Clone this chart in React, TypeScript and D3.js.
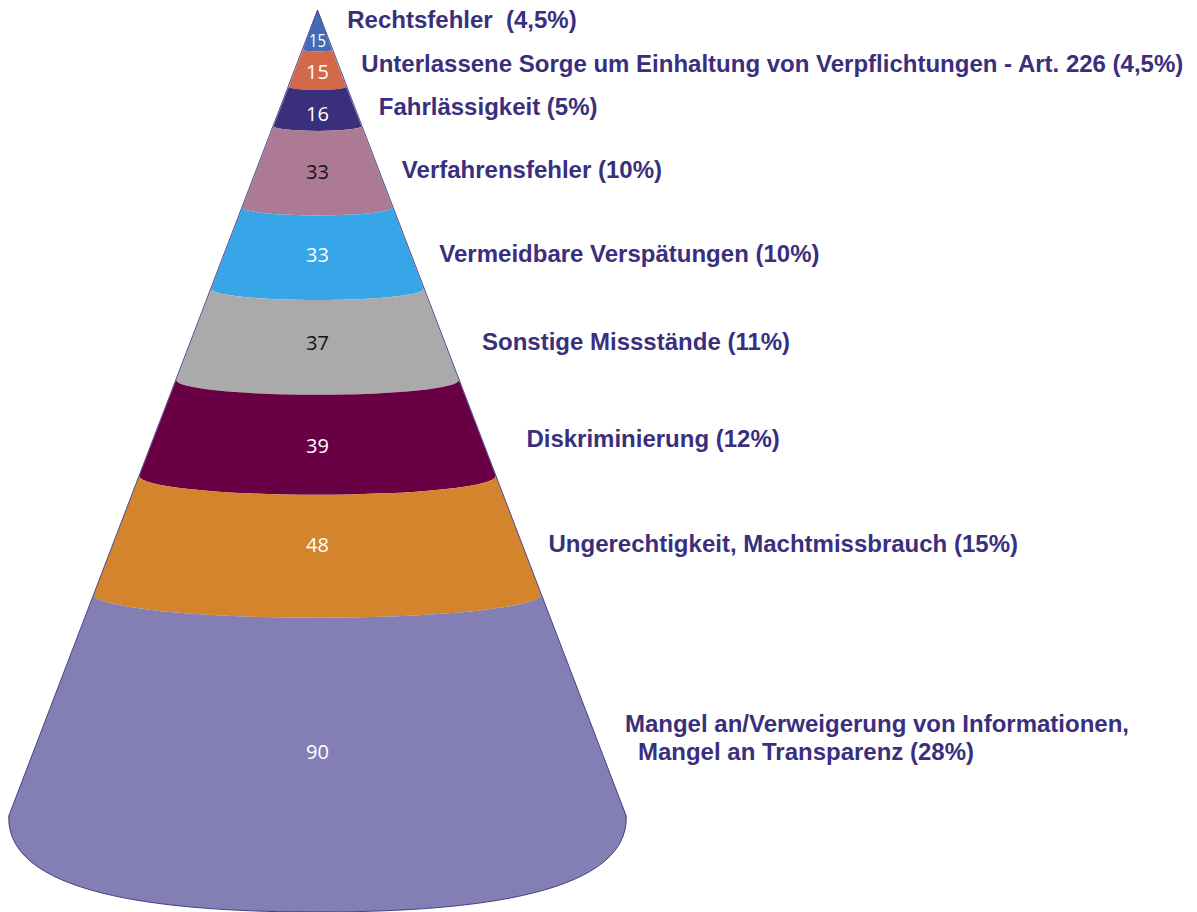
import React from "react";
import * as d3 from "d3";

// ---------- data ----------
const categories: string[] = [
  "Rechtsfehler  (4,5%)",
  "Unterlassene Sorge um Einhaltung von Verpflichtungen - Art. 226 (4,5%)",
  "Fahrlässigkeit (5%)",
  "Verfahrensfehler (10%)",
  "Vermeidbare Verspätungen (10%)",
  "Sonstige Missstände (11%)",
  "Diskriminierung (12%)",
  "Ungerechtigkeit, Machtmissbrauch (15%)",
  "Mangel an/Verweigerung von Informationen,\nMangel an Transparenz (28%)",
];
const values: number[] = [15, 15, 16, 33, 33, 37, 39, 48, 90];
const bandColors: string[] = [
  "#3f6cb3",
  "#d4684a",
  "#392f7b",
  "#ad7a95",
  "#37a6e8",
  "#aaaaaa",
  "#690043",
  "#d3842c",
  "#837eb4",
];
const numberColors: string[] = [
  "#ffffff", "#ffffff", "#ffffff", "#111111", "#ffffff",
  "#111111", "#ffffff", "#ffffff", "#ffffff",
];

// ---------- layout tweaks (separate from data) ----------
const labelDx = [27, 24, 25, 24, 29, 38, 45, 27, 29];
const labelDy = [-13, -7, -4, -4, -4, -6, -6, -13, 4];
const numberDy = [8, 1, 3, -1, -3, -5, 1, -11, 19];

const W = 1197;
const H = 912;
const cx = 317.5;
const apexY = 12;
const tipY = 10;
const slope = 0.384;
const yTop = 13;
const yBottom = 816;
const yCenterBottom = 912;
const sagRatio = 0.105;

const labelColor = "#3a2f7d";
const labelFont = "'Liberation Sans', Arial, Helvetica, sans-serif";
const numberFont = "'Open Sans', 'Noto Sans', sans-serif";

export default function App() {
  const total = d3.sum(values);
  const y = d3.scaleLinear().domain([0, total]).range([yTop, yBottom]);
  const hw = (yy: number) => Math.max(0, slope * (yy - apexY));
  const cum = d3.cumsum(values);
  const starts = values.map((_, i) => (i === 0 ? 0 : cum[i - 1]));

  const hwB = hw(yBottom);
  const bottomCurveR = `C${cx + hwB + 3},${yBottom + 84} ${cx + 132},${yCenterBottom} ${cx},${yCenterBottom}`;
  const bottomCurveL = `C${cx - 132},${yCenterBottom} ${cx - hwB - 3},${yBottom + 84} ${cx - hwB},${yBottom}`;

  const bandPath = (i: number) => {
    const y0 = y(starts[i]);
    const y1 = y(cum[i]);
    const h0 = hw(y0);
    const h1 = hw(y1);
    let s = "";
    if (i === 0) {
      s += `M${cx},${tipY}`;
    } else {
      s += `M${cx - h0},${y0} A${h0},${h0 * sagRatio} 0 0 0 ${cx + h0},${y0}`;
    }
    if (i === values.length - 1) {
      s += ` L${cx + hwB},${yBottom} ${bottomCurveR} ${bottomCurveL} Z`;
    } else {
      s += ` L${cx + h1},${y1} A${h1},${h1 * sagRatio} 0 0 1 ${cx - h1},${y1} Z`;
    }
    return s;
  };

  const outline = `M${cx},${tipY} L${cx + hwB},${yBottom} ${bottomCurveR} ${bottomCurveL} Z`;

  return (
    <svg
      width={W}
      height={H}
      viewBox={`0 0 ${W} ${H}`}
      style={{ position: "absolute", left: 0, top: 0, display: "block", background: "#ffffff" }}
    >
      <rect x={0} y={0} width={W} height={H} fill="#ffffff" />
      {values.map((v, i) => (
        <path key={`b${i}`} d={bandPath(i)} fill={bandColors[i]} />
      ))}
      <path d={outline} fill="none" stroke="#3a2f7d" strokeWidth={0.9} />
      {values.map((v, i) => {
        const mid = (y(starts[i]) + y(cum[i])) / 2;
        const c = mid + hw(mid) * sagRatio + numberDy[i];
        return (
          <text
            key={`n${i}`}
            x={cx}
            y={c}
            dy="0.36em"
            textAnchor="middle"
            fontFamily={numberFont}
            fontSize={i === 0 ? 18 : 20}
            fill={numberColors[i]}
            {...(i === 0 ? { textLength: 17, lengthAdjust: "spacingAndGlyphs" } : {})}
          >
            {v}
          </text>
        );
      })}
      {categories.map((cat, i) => {
        const mid = (y(starts[i]) + y(cum[i])) / 2;
        const c = mid + hw(mid) * sagRatio + labelDy[i];
        const lines = cat.split("\n");
        const x = cx + hw(c) + labelDx[i];
        const lh = 28;
        const firstY = c - ((lines.length - 1) * lh) / 2;
        return (
          <text
            key={`l${i}`}
            x={x}
            fontFamily={labelFont}
            fontWeight="bold"
            fontSize={24}
            fill={labelColor}
            style={{ whiteSpace: "pre" }}
          >
            {lines.map((ln, j) => (
              <tspan key={j} x={x + (j > 0 ? 13 : 0)} y={firstY + j * lh} dy="0.36em">
                {ln}
              </tspan>
            ))}
          </text>
        );
      })}
    </svg>
  );
}
